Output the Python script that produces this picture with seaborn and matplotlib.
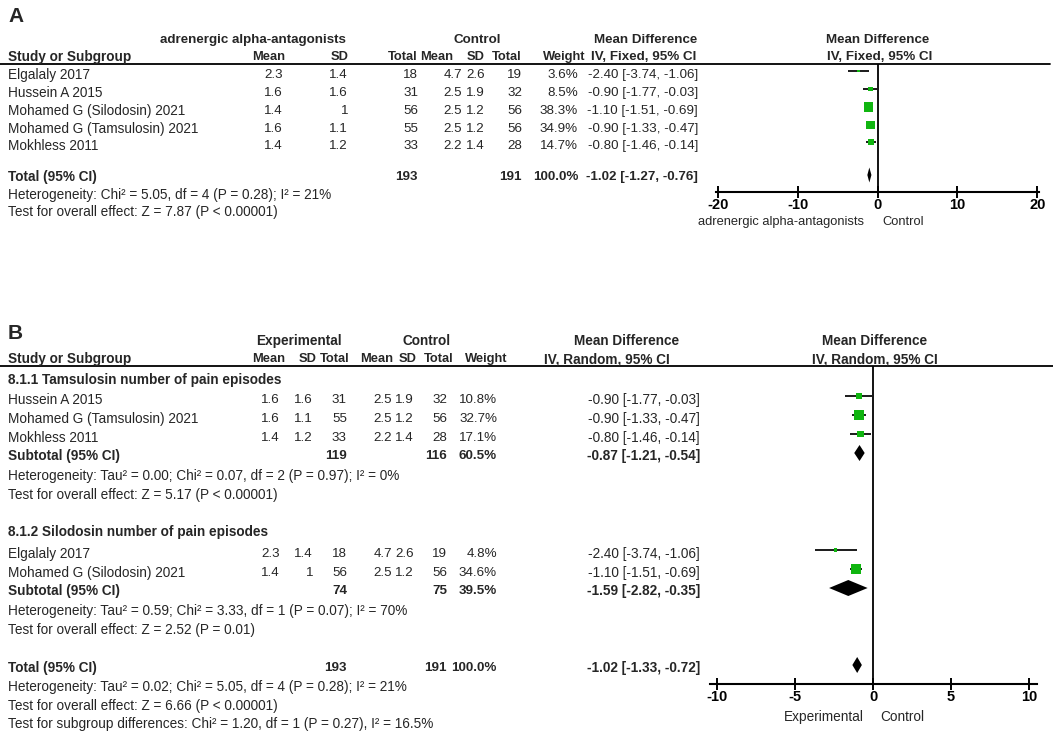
import pandas as pd
import matplotlib
matplotlib.use("Agg")
import matplotlib.pyplot as plt
import seaborn as sns

# ---- Panel A: adrenergic alpha-antagonists vs control (fixed effect) ----
a_study = ["Elgalaly 2017", "Hussein A 2015", "Mohamed G (Silodosin) 2021",
           "Mohamed G (Tamsulosin) 2021", "Mokhless 2011"]
a_exp_mean = [2.3, 1.6, 1.4, 1.6, 1.4]
a_exp_sd = [1.4, 1.6, 1, 1.1, 1.2]
a_exp_n = [18, 31, 56, 55, 33]
a_ctl_mean = [4.7, 2.5, 2.5, 2.5, 2.2]
a_ctl_sd = [2.6, 1.9, 1.2, 1.2, 1.4]
a_ctl_n = [19, 32, 56, 56, 28]
a_weight = [3.6, 8.5, 38.3, 34.9, 14.7]
a_md = [-2.40, -0.90, -1.10, -0.90, -0.80]
a_lo = [-3.74, -1.77, -1.51, -1.33, -1.46]
a_hi = [-1.06, -0.03, -0.69, -0.47, -0.14]
a_tot_n = [193, 191]
a_tot_ci = [-1.02, -1.27, -0.76]
a_notes = ["Heterogeneity: Chi² = 5.05, df = 4 (P = 0.28); I² = 21%",
           "Test for overall effect: Z = 7.87 (P < 0.00001)"]
a_ticks = [-20, -10, 0, 10, 20]

# ---- Panel B: subgroups (random effects) ----
b_groups = ["8.1.1 Tamsulosin number of pain episodes",
            "8.1.2 Silodosin number of pain episodes"]
b_study = ["Hussein A 2015", "Mohamed G (Tamsulosin) 2021", "Mokhless 2011",
           "Elgalaly 2017", "Mohamed G (Silodosin) 2021"]
b_exp_mean = [1.6, 1.6, 1.4, 2.3, 1.4]
b_exp_sd = [1.6, 1.1, 1.2, 1.4, 1]
b_exp_n = [31, 55, 33, 18, 56]
b_ctl_mean = [2.5, 2.5, 2.2, 4.7, 2.5]
b_ctl_sd = [1.9, 1.2, 1.4, 2.6, 1.2]
b_ctl_n = [32, 56, 28, 19, 56]
b_weight = [10.8, 32.7, 17.1, 4.8, 34.6]
b_md = [-0.90, -0.90, -0.80, -2.40, -1.10]
b_lo = [-1.77, -1.33, -1.46, -3.74, -1.51]
b_hi = [-0.03, -0.47, -0.14, -1.06, -0.69]
b_sub_n_exp = [119, 74]
b_sub_n_ctl = [116, 75]
b_sub_weight = [60.5, 39.5]
b_sub_md = [-0.87, -1.59]
b_sub_lo = [-1.21, -2.82]
b_sub_hi = [-0.54, -0.35]
b_sub_notes = [["Heterogeneity: Tau² = 0.00; Chi² = 0.07, df = 2 (P = 0.97); I² = 0%",
                "Test for overall effect: Z = 5.17 (P < 0.00001)"],
               ["Heterogeneity: Tau² = 0.59; Chi² = 3.33, df = 1 (P = 0.07); I² = 70%",
                "Test for overall effect: Z = 2.52 (P = 0.01)"]]
b_tot_n = [193, 191]
b_tot_ci = [-1.02, -1.33, -0.72]
b_notes = ["Heterogeneity: Tau² = 0.02; Chi² = 5.05, df = 4 (P = 0.28); I² = 21%",
           "Test for overall effect: Z = 6.66 (P < 0.00001)",
           "Test for subgroup differences: Chi² = 1.20, df = 1 (P = 0.27), I² = 16.5%"]
b_ticks = [-10, -5, 0, 5, 10]

# ---- layout (pixels, figure is 1053 x 735) ----
W, H = 1053, 735
GREEN = "#10b510"
FS = 9.8      # names / notes
FN = 9.6      # numeric columns
FH = 9.3      # narrow column headers

A_ROWS = [75, 93, 111, 129, 146]
A_TOTAL_Y = 177
A_NOTE_Y = [195, 212]
B_STUDY_ROWS = [400, 419, 438, 554, 573]
B_GROUP_Y = [380, 532]
B_SUB_Y = [456, 591]
B_NOTE_Y = [[476, 495], [611, 630]]
B_TOTAL_Y = 668
B_TOTAL_NOTE_Y = [687, 706, 724]
MARK_SHIFT = -4

sns.set_style("white")
plt.rcParams["font.family"] = ["Liberation Sans", "DejaVu Sans"]

fig = plt.figure(figsize=(W / 100, H / 100), dpi=100)
tx = fig.add_axes([0, 0, 1, 1])
tx.set_xlim(0, W)
tx.set_ylim(H, 0)
tx.axis("off")


def t(x, y, s, ha="left", bold=False, size=FS):
    tx.text(x, y, s, ha=ha, va="center", fontsize=size,
            fontweight="bold" if bold else "normal")


def fmt_ci(m, lo, hi):
    return f"{m:.2f} [{lo:.2f}, {hi:.2f}]"


def forest_axes(x0, x1, ytop, ybot, xlim, ticks):
    ax = fig.add_axes([x0 / W, 1 - ybot / H, (x1 - x0) / W, (ybot - ytop) / H])
    ax.set_facecolor("none")
    ax.set_xlim(*xlim)
    ax.set_ylim(ybot, ytop)
    for s in ["left", "right", "top"]:
        ax.spines[s].set_visible(False)
    ax.spines["bottom"].set_linewidth(1.5)
    ax.spines["bottom"].set_color("black")
    ax.set_yticks([])
    ax.set_xticks(ticks)
    ax.set_xticklabels([str(v) for v in ticks], fontweight="bold", fontsize=10.5)
    ax.tick_params(axis="x", direction="inout", length=8, width=1.4, pad=0,
                   bottom=True, colors="black")
    ax.axvline(0, color="black", lw=1.3)
    return ax


def diamond(ax, y, m, lo, hi, half):
    ax.fill([lo, m, hi, m], [y, y - half, y, y + half], color="black", lw=0)


def squares(ax, md, lo, hi, ys, weight, k):
    df = pd.DataFrame({"md": md, "y": ys, "w": weight})
    ax.hlines(ys, lo, hi, color="#1a1a1a", lw=1.4)
    sns.scatterplot(data=df, x="md", y="y", size="w", sizes=(0, 100 * k),
                    size_norm=(0, 100), marker="s", color=GREEN, linewidth=0,
                    legend=False, ax=ax, zorder=3)
    ax.set_xlabel("")
    ax.set_ylabel("")


# ================= Panel A =================
t(8, 16, "A", bold=True, size=15)
t(253, 40, "adrenergic alpha-antagonists", ha="center", bold=True, size=FN)
t(477, 40, "Control", ha="center", bold=True, size=FN)
t(646, 40, "Mean Difference", ha="center", bold=True, size=FN)
t(878, 40, "Mean Difference", ha="center", bold=True, size=FN)
t(8, 57, "Study or Subgroup", bold=True)
for x, s in [(285, "Mean"), (349, "SD"), (418, "Total"), (453, "Mean"),
             (485, "SD"), (522, "Total"), (585, "Weight")]:
    t(x, 57, s, ha="right", bold=True, size=FH)
t(644, 57, "IV, Fixed, 95% CI", ha="center", bold=True, size=FN)
t(880, 57, "IV, Fixed, 95% CI", ha="center", bold=True, size=FN)
tx.plot([0, 1050], [64, 64], color="black", lw=1.3)

for i, y in enumerate(A_ROWS):
    t(8, y, a_study[i])
    t(283, y, f"{a_exp_mean[i]:g}", ha="right", size=FN)
    t(348, y, f"{a_exp_sd[i]:g}", ha="right", size=FN)
    t(418, y, f"{a_exp_n[i]}", ha="right", size=FN)
    t(462, y, f"{a_ctl_mean[i]:g}", ha="right", size=FN)
    t(485, y, f"{a_ctl_sd[i]:g}", ha="right", size=FN)
    t(522, y, f"{a_ctl_n[i]}", ha="right", size=FN)
    t(578, y, f"{a_weight[i]:.1f}%", ha="right", size=FN)
    t(698, y, fmt_ci(a_md[i], a_lo[i], a_hi[i]), ha="right", size=FN)
t(8, A_TOTAL_Y, "Total (95% CI)", bold=True)
t(418, A_TOTAL_Y, f"{a_tot_n[0]}", ha="right", bold=True, size=FN)
t(522, A_TOTAL_Y, f"{a_tot_n[1]}", ha="right", bold=True, size=FN)
t(578, A_TOTAL_Y, f"{sum(a_weight):.1f}%", ha="right", bold=True, size=FN)
t(698, A_TOTAL_Y, fmt_ci(*a_tot_ci), ha="right", bold=True, size=FN)
for yy, s in zip(A_NOTE_Y, a_notes):
    t(8, yy, s)

axA = forest_axes(716, 1039, 64, 192, (-20.2, 20.2), a_ticks)
squares(axA, a_md, a_lo, a_hi, [y + MARK_SHIFT for y in A_ROWS], a_weight, 1.2)
diamond(axA, A_TOTAL_Y - 2, *a_tot_ci, 7.5)
axA.annotate("adrenergic alpha-antagonists", xy=(0, 0), xycoords=("data", "axes fraction"),
             xytext=(-14, -30), textcoords="offset pixels", ha="right", va="center", fontsize=9.3)
axA.annotate("Control", xy=(0, 0), xycoords=("data", "axes fraction"),
             xytext=(5, -30), textcoords="offset pixels", ha="left", va="center", fontsize=9.3)

# ================= Panel B =================
t(8, 333, "B", bold=True, size=15)
t(299, 341, "Experimental", ha="center", bold=True)
t(427, 341, "Control", ha="center", bold=True)
t(627, 341, "Mean Difference", ha="center", bold=True)
t(875, 341, "Mean Difference", ha="center", bold=True)
t(8, 359, "Study or Subgroup", bold=True)
for x, s in [(285, "Mean"), (317, "SD"), (350, "Total"), (393, "Mean"),
             (417, "SD"), (453, "Total"), (507, "Weight")]:
    t(x, 359, s, ha="right", bold=True, size=FH)
t(607, 359, "IV, Random, 95% CI", ha="center", bold=True)
t(875, 359, "IV, Random, 95% CI", ha="center", bold=True)
tx.plot([0, W], [366, 366], color="black", lw=1.3)

for g in range(2):
    t(8, B_GROUP_Y[g], b_groups[g], bold=True)
for i, y in enumerate(B_STUDY_ROWS):
    t(8, y, b_study[i])
    t(280, y, f"{b_exp_mean[i]:g}", ha="right", size=FN)
    t(313, y, f"{b_exp_sd[i]:g}", ha="right", size=FN)
    t(347, y, f"{b_exp_n[i]}", ha="right", size=FN)
    t(392, y, f"{b_ctl_mean[i]:g}", ha="right", size=FN)
    t(414, y, f"{b_ctl_sd[i]:g}", ha="right", size=FN)
    t(447, y, f"{b_ctl_n[i]}", ha="right", size=FN)
    t(497, y, f"{b_weight[i]:.1f}%", ha="right", size=FN)
    t(700, y, fmt_ci(b_md[i], b_lo[i], b_hi[i]), ha="right")
for g in range(2):
    y = B_SUB_Y[g]
    t(8, y, "Subtotal (95% CI)", bold=True)
    t(347, y, f"{b_sub_n_exp[g]}", ha="right", bold=True, size=FN)
    t(447, y, f"{b_sub_n_ctl[g]}", ha="right", bold=True, size=FN)
    t(497, y, f"{b_sub_weight[g]:.1f}%", ha="right", bold=True, size=FN)
    t(700, y, fmt_ci(b_sub_md[g], b_sub_lo[g], b_sub_hi[g]), ha="right", bold=True)
    for yy, s in zip(B_NOTE_Y[g], b_sub_notes[g]):
        t(8, yy, s)
t(8, B_TOTAL_Y, "Total (95% CI)", bold=True)
t(347, B_TOTAL_Y, f"{b_tot_n[0]}", ha="right", bold=True, size=FN)
t(447, B_TOTAL_Y, f"{b_tot_n[1]}", ha="right", bold=True, size=FN)
t(497, B_TOTAL_Y, f"{sum(b_sub_weight):.1f}%", ha="right", bold=True, size=FN)
t(700, B_TOTAL_Y, fmt_ci(*b_tot_ci), ha="right", bold=True)
for yy, s in zip(B_TOTAL_NOTE_Y, b_notes):
    t(8, yy, s)

axB = forest_axes(710, 1037, 366, 684, (-10.45, 10.5), b_ticks)
squares(axB, b_md, b_lo, b_hi, [y + MARK_SHIFT for y in B_STUDY_ROWS], b_weight, 1.45)
for g in range(2):
    diamond(axB, B_SUB_Y[g] - 3, b_sub_md[g], b_sub_lo[g], b_sub_hi[g], 8)
diamond(axB, B_TOTAL_Y - 3, *b_tot_ci, 8)
axB.annotate("Experimental", xy=(0, 0), xycoords=("data", "axes fraction"),
             xytext=(-9, -33), textcoords="offset pixels", ha="right", va="center", fontsize=9.8)
axB.annotate("Control", xy=(0, 0), xycoords=("data", "axes fraction"),
             xytext=(7, -33), textcoords="offset pixels", ha="left", va="center", fontsize=9.8)

fig.savefig("out.png", dpi=100)
